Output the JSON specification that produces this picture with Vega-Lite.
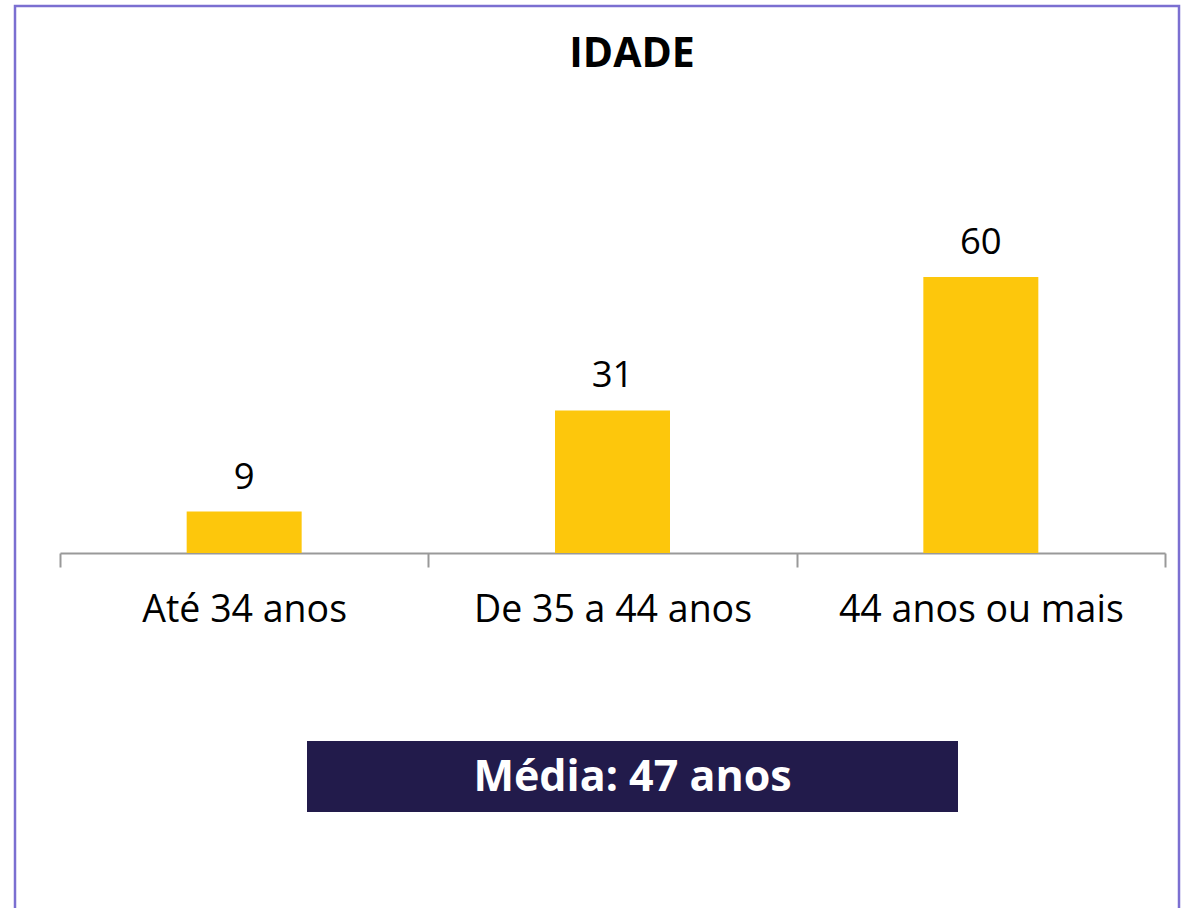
{
  "$schema": "https://vega.github.io/schema/vega-lite/v6.json",
  "width": 1164,
  "height": 914,
  "autosize": {"type": "none"},
  "padding": {"left": 15, "top": 6, "right": 10, "bottom": 0},
  "background": "white",
  "title": {
    "text": "IDADE",
    "font": "Open Sans",
    "fontSize": 41,
    "fontWeight": "bold",
    "color": "#000000",
    "anchor": "middle",
    "baseline": "alphabetic",
    "dx": 35,
    "offset": -102
  },
  "config": {
    "view": {"stroke": "#7B6FD1", "strokeWidth": 2.5},
    "font": "Open Sans"
  },
  "datasets": {
    "idade": [
      {"faixa": "Até 34 anos", "pct": 9},
      {"faixa": "De 35 a 44 anos", "pct": 31},
      {"faixa": "44 anos ou mais", "pct": 60}
    ],
    "media": [
      {"label": "Média: 47 anos", "media": 47, "inicio": 0}
    ]
  },
  "resolve": {"scale": {"x": "independent"}, "axis": {"x": "independent"}},
  "layer": [
    {
      "data": {"name": "idade"},
      "layer": [
        {
          "mark": {"type": "bar", "color": "#FDC70C", "width": {"band": 0.3122}},
          "encoding": {
            "x": {
              "field": "faixa",
              "type": "nominal",
              "sort": null,
              "scale": {"range": [45, 1150], "paddingInner": 0, "paddingOuter": 0},
              "axis": {
                "title": null,
                "domain": true,
                "domainColor": "#999999",
                "domainWidth": 2,
                "tickBand": "extent",
                "tickSize": 14,
                "tickWidth": 2,
                "tickColor": "#999999",
                "labelAngle": 0,
                "labelFont": "Open Sans",
                "labelFontSize": 37.5,
                "labelColor": "#000000",
                "labelBaseline": "alphabetic",
                "labelPadding": 54,
                "labelLimit": 600,
                "offset": -367
              }
            },
            "y": {
              "field": "pct",
              "type": "quantitative",
              "scale": {"domain": [-79.783, 118.913], "nice": false, "zero": false},
              "axis": null
            }
          }
        },
        {
          "mark": {"type": "text", "fontSize": 36.5, "baseline": "alphabetic", "dy": -23, "color": "#000000"},
          "encoding": {
            "x": {"field": "faixa", "type": "nominal", "sort": null},
            "y": {"field": "pct", "type": "quantitative"},
            "text": {"field": "pct", "type": "quantitative"}
          }
        }
      ]
    },
    {
      "data": {"name": "media"},
      "layer": [
        {
          "mark": {"type": "rect", "color": "#221B4B"},
          "encoding": {
            "x": {"field": "inicio", "type": "quantitative", "scale": {"domain": [0, 47], "range": [292, 943], "nice": false, "zero": false}, "axis": null},
            "x2": {"field": "media"},
            "y": {"datum": -40.87, "type": "quantitative"},
            "y2": {"datum": -56.3}
          }
        },
        {
          "mark": {"type": "text", "fontSize": 43, "fontWeight": "bold", "color": "#FFFFFF", "baseline": "alphabetic", "align": "center"},
          "encoding": {
            "x": {"datum": 23.5, "type": "quantitative"},
            "y": {"datum": -51.67, "type": "quantitative"},
            "text": {"field": "label", "type": "nominal"}
          }
        }
      ]
    }
  ]
}
